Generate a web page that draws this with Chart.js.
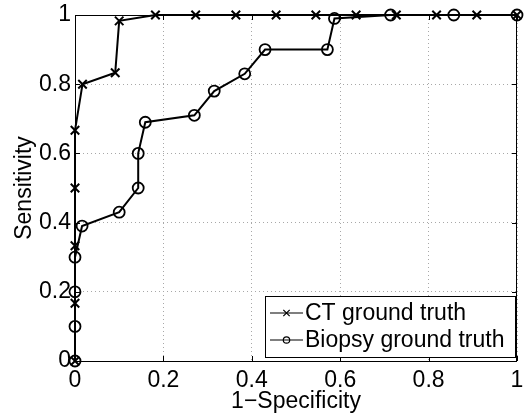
<!DOCTYPE html>
<html>
<head>
<meta charset="utf-8">
<script src="https://cdn.jsdelivr.net/npm/chart.js@4/dist/chart.umd.min.js"></script>
<style>
  html, body { margin: 0; padding: 0; background: #fff; }
  #wrap { width: 525px; height: 415px; }
</style>
</head>
<body>
<div id="wrap"><canvas id="roc"></canvas></div>
<script>
// values
const ctX = [0, 0, 0, 0, 0, 0.017, 0.091, 0.1, 0.182, 0.273, 0.364, 0.455, 0.545, 0.636, 0.727, 0.818, 0.909, 1];
const ctY = [0, 0.167, 0.333, 0.5, 0.667, 0.8, 0.833, 0.983, 1, 1, 1, 1, 1, 1, 1, 1, 1, 1];
const bioX = [0, 0, 0, 0, 0.016, 0.1, 0.143, 0.143, 0.159, 0.27, 0.315, 0.384, 0.43, 0.571, 0.587, 0.714, 0.857, 1];
const bioY = [0, 0.1, 0.2, 0.3, 0.39, 0.43, 0.5, 0.6, 0.69, 0.71, 0.78, 0.83, 0.9, 0.9, 0.99, 1, 1, 1];
const tickVals = [0, 0.2, 0.4, 0.6, 0.8, 1];
const tickLabels = ["0", "0.2", "0.4", "0.6", "0.8", "1"];
const seriesNames = ["CT ground truth", "Biopsy ground truth"];

const FONT = "'Liberation Sans', Arial, Helvetica, sans-serif";

function pts(xs, ys) {
  return xs.map((x, i) => ({ x: x, y: ys[i] }));
}

function tickText(v) {
  const i = tickVals.findIndex(t => Math.abs(t - v) < 1e-6);
  return i < 0 ? "" : tickLabels[i];
}

// box, inward ticks and the matlab style legend
const matlabAxes = {
  id: "matlabAxes",
  afterDraw(chart) {
    const ctx = chart.ctx;
    const a = chart.chartArea;
    const xs = chart.scales.x, ys = chart.scales.y;
    ctx.save();
    ctx.strokeStyle = "#000";
    ctx.lineWidth = 1;
    ctx.beginPath();
    tickVals.forEach(v => {
      const px = Math.round(xs.getPixelForValue(v)) + 0.5;
      ctx.moveTo(px, a.bottom); ctx.lineTo(px, a.bottom - 5);
      ctx.moveTo(px, a.top); ctx.lineTo(px, a.top + 5);
      const py = Math.round(ys.getPixelForValue(v)) + 0.5;
      ctx.moveTo(a.left, py); ctx.lineTo(a.left + 5, py);
      ctx.moveTo(a.right, py); ctx.lineTo(a.right - 5, py);
    });
    ctx.stroke();
    ctx.strokeRect(Math.round(a.left) + 0.5, Math.round(a.top) + 0.5,
      Math.round(a.right - a.left) - 1, Math.round(a.bottom - a.top));

    // legend
    const lx = 265, ly = 296, lw = 250, lh = 61;
    ctx.fillStyle = "#fff";
    ctx.fillRect(lx, ly, lw, lh);
    ctx.strokeRect(lx + 0.5, ly + 0.5, lw, lh);
    ctx.font = "23px " + FONT;
    ctx.textBaseline = "middle";
    chart.data.datasets.forEach((ds, i) => {
      const cy = ly + 17 + i * 27;
      ctx.beginPath();
      ctx.lineWidth = 1.2;
      ctx.moveTo(270, cy); ctx.lineTo(303, cy);
      ctx.stroke();
      ctx.fillStyle = "rgba(0,0,0,0)";
      Chart.helpers.drawPoint(ctx, {
        pointStyle: ds.pointStyle, radius: ds.pointStyle === "circle" ? 3.2 : 4.5, borderWidth: 1.2
      }, 286.5, cy);
      ctx.fillStyle = "#000";
      ctx.fillText(ds.label, 305, cy + 1);
    });
    ctx.restore();
  }
};

const axisBase = {
  type: "linear",
  min: 0,
  max: 1,
  border: { display: false, dash: [1, 3] },
  grid: { color: "#a8a8a8", lineWidth: 1, drawTicks: false },
  ticks: {
    stepSize: 0.2,
    color: "#000",
    font: { family: FONT, size: 23 },
    callback: v => tickText(v)
  }
};

new Chart(document.getElementById("roc"), {
  type: "scatter",
  data: {
    datasets: [
      {
        label: seriesNames[0],
        data: pts(ctX, ctY),
        showLine: true,
        borderColor: "#000",
        borderWidth: 2,
        pointStyle: "crossRot",
        pointRadius: 6,
        pointBorderWidth: 2,
        pointBorderColor: "#000",
        pointBackgroundColor: "#000",
        clip: false
      },
      {
        label: seriesNames[1],
        data: pts(bioX, bioY),
        showLine: true,
        borderColor: "#000",
        borderWidth: 2,
        pointStyle: "circle",
        pointRadius: 5.5,
        pointBorderWidth: 1.8,
        pointBorderColor: "#000",
        pointBackgroundColor: "rgba(0,0,0,0)",
        clip: false
      }
    ]
  },
  options: {
    responsive: true,
    maintainAspectRatio: false,
    animation: false,
    events: [],
    layout: { padding: { top: 15, right: 5, left: 0, bottom: 0 } },
    plugins: { legend: { display: false }, tooltip: { enabled: false } },
    scales: {
      x: Object.assign({}, axisBase, {
        ticks: Object.assign({}, axisBase.ticks, { padding: 6, maxRotation: 0 }),
        title: {
          display: true, text: "1\u2212Specificity", color: "#000",
          font: { family: FONT, size: 23 }, padding: { top: 0, bottom: 0 }
        },
        afterFit(s) { s.height = 54; s.paddingLeft = 0; s.paddingRight = 0; }
      }),
      y: Object.assign({}, axisBase, {
        ticks: Object.assign({}, axisBase.ticks, { padding: 4 }),
        title: {
          display: true, text: "Sensitivity", color: "#000",
          font: { family: FONT, size: 23 }, padding: { top: 11, bottom: 0 }
        },
        afterFit(s) { s.width = 75; s.paddingTop = 0; s.paddingBottom = 0; }
      })
    }
  },
  plugins: [matlabAxes]
});
</script>
</body>
</html>
